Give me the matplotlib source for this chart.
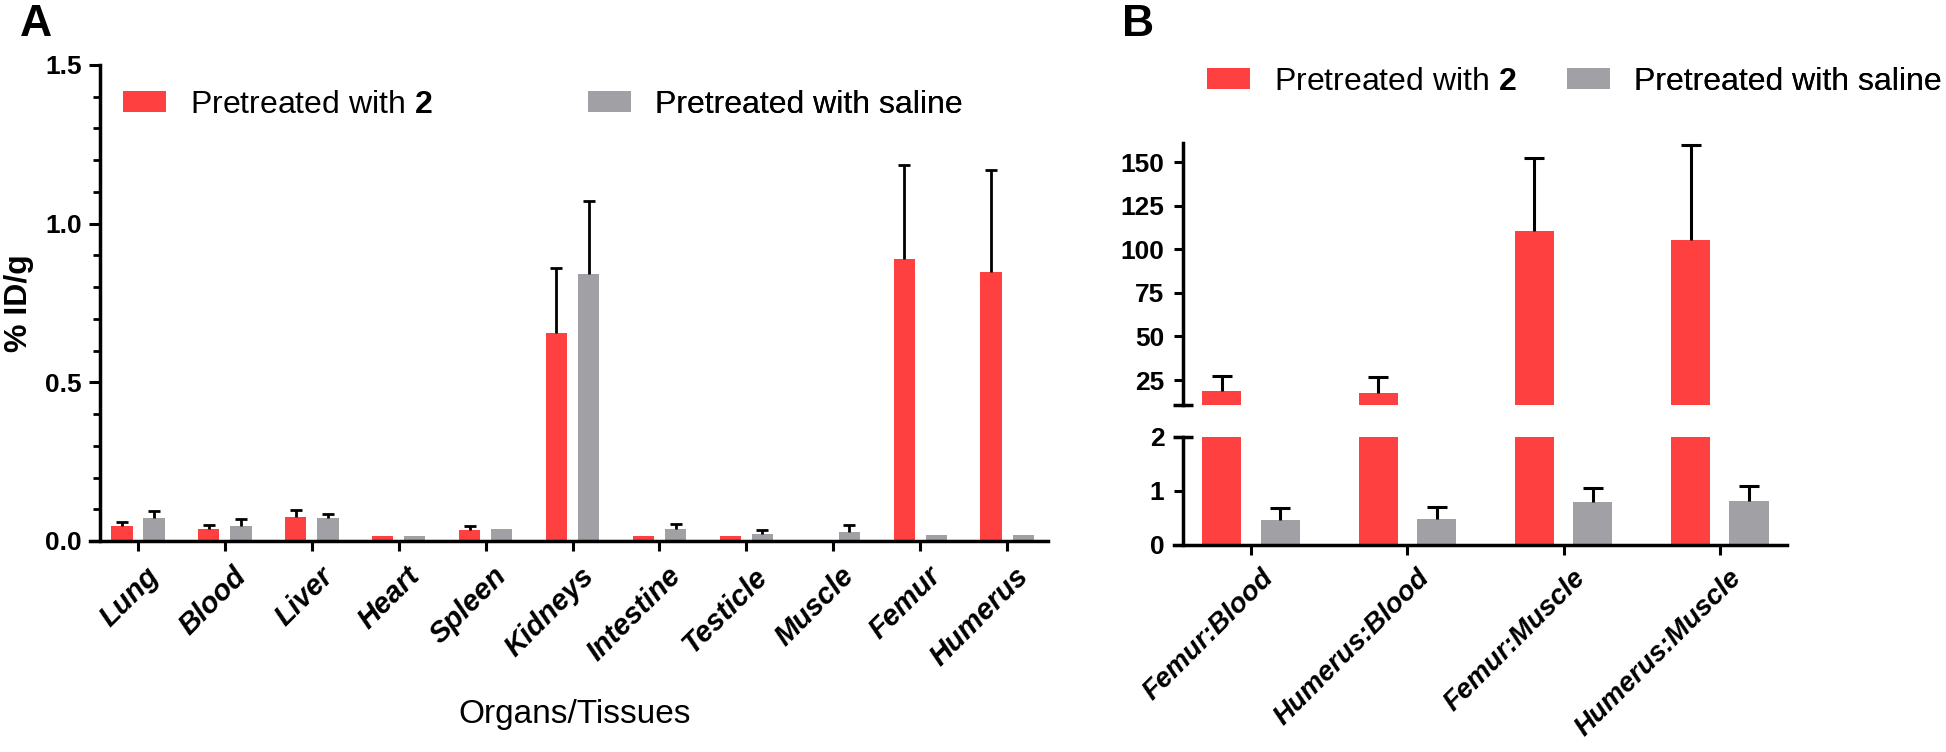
import numpy as np
import matplotlib
matplotlib.use('Agg')
import matplotlib.pyplot as plt
import matplotlib.transforms as mtransforms
from matplotlib.patches import Patch
from matplotlib.ticker import MultipleLocator, FormatStrFormatter

plt.rcParams['font.family'] = ['Liberation Sans', 'DejaVu Sans']
plt.rcParams['mathtext.fontset'] = 'custom'
plt.rcParams['mathtext.rm'] = 'Liberation Sans'
plt.rcParams['mathtext.bf'] = 'Liberation Sans:bold'

# ---------------- data ----------------
organs = ['Lung', 'Blood', 'Liver', 'Heart', 'Spleen', 'Kidneys', 'Intestine',
          'Testicle', 'Muscle', 'Femur', 'Humerus']
a_treated = [0.047, 0.037, 0.076, 0.015, 0.034, 0.655, 0.015, 0.016, 0.0, 0.888, 0.848]
a_treated_err = [0.013, 0.014, 0.022, 0.0, 0.013, 0.204, 0.0, 0.0, 0.0, 0.296, 0.322]
a_saline = [0.073, 0.047, 0.073, 0.015, 0.037, 0.840, 0.038, 0.023, 0.027, 0.019, 0.019]
a_saline_err = [0.023, 0.021, 0.012, 0.0, 0.0, 0.233, 0.015, 0.011, 0.024, 0.0, 0.0]

ratios = ['Femur:Blood', 'Humerus:Blood', 'Femur:Muscle', 'Humerus:Muscle']
b_treated = [18.8, 17.7, 110.4, 105.4]
b_treated_err = [8.3, 9.0, 41.7, 54.3]
b_saline = [0.46, 0.49, 0.79, 0.82]
b_saline_err = [0.23, 0.21, 0.27, 0.28]

label_treated = 'Pretreated with $\\mathbf{2}$'
label_saline = 'Pretreated with saline'
a_yticks = [0.0, 0.5, 1.0, 1.5]
b_upper_ticks = [25, 50, 75, 100, 125, 150]
b_lower_ticks = [0, 1, 2]

RED = '#FF4040'
GRAY = '#A0A0A5'
W, H = 1946, 752
fig = plt.figure(figsize=(W / 100, H / 100), dpi=100)


def px_axes(l, t, r, b):
    return fig.add_axes([l / W, 1 - b / H, (r - l) / W, (b - t) / H])


def style(ax, spine_x):
    for s in ['top', 'right']:
        ax.spines[s].set_visible(False)
    ax.spines['left'].set_position(('data', spine_x))
    for s in ['left', 'bottom']:
        ax.spines[s].set_linewidth(2.5)
    ax.tick_params(axis='both', which='major', direction='out', width=2.2,
                   length=7.5, labelsize=19)


def upper_err(ax, x, y, e, capsize, lw, clip=True):
    x = np.asarray(x); y = np.asarray(y); e = np.asarray(e)
    m = e > 0
    _, caps, bars = ax.errorbar(x[m], y[m], yerr=[np.zeros(m.sum()), e[m]],
                                fmt='none', ecolor='black', elinewidth=lw,
                                capsize=capsize, capthick=lw, zorder=3)
    for c in caps:
        if np.allclose(c.get_ydata(), y[m]):
            c.set_visible(False)
        c.set_clip_on(clip)
    for b in bars:
        b.set_clip_on(clip)


def shift_xlabels(ax, dx_px, dy_px):
    off = mtransforms.ScaledTranslation(dx_px / 100, -dy_px / 100, fig.dpi_scale_trans)
    for lab in ax.get_xticklabels():
        lab.set_transform(lab.get_transform() + off)


def add_item(ax, color, text, x_px, y_px):
    leg = ax.legend([Patch(facecolor=color, edgecolor='none')], [text],
                    loc='center left', bbox_to_anchor=(x_px / W, 1 - y_px / H),
                    bbox_transform=fig.transFigure, frameon=False, borderpad=0,
                    borderaxespad=0, handlelength=1.35, handleheight=0.63,
                    handletextpad=0.75, fontsize=23)
    ax.add_artist(leg)


# ---------------- Panel A ----------------
axA = px_axes(90, 65, 1048, 541)
xa = np.arange(len(organs))
off, bw = 0.185, 0.245
axA.bar(xa - off, a_treated, bw, color=RED, zorder=2)
axA.bar(xa + off, a_saline, bw, color=GRAY, zorder=2)
upper_err(axA, xa - off, a_treated, a_treated_err, 4, 2.0)
upper_err(axA, xa + off, a_saline, a_saline_err, 4, 2.0)
axA.set_xlim(-0.552, 10.47)
axA.set_ylim(0, 1.5)
axA.set_yticks(a_yticks)
axA.yaxis.set_major_formatter(FormatStrFormatter('%.1f'))
axA.yaxis.set_minor_locator(MultipleLocator(0.1))
axA.set_xticks(xa)
style(axA, -0.437)
axA.tick_params(axis='y', which='major', length=8, pad=5)
axA.tick_params(axis='y', which='minor', length=5, width=2.0)
axA.tick_params(axis='x', length=7.5, pad=4)
axA.set_xticklabels(organs, rotation=45, ha='right', va='top',
                    rotation_mode='anchor', fontsize=21, fontweight='bold',
                    fontstyle='italic')
shift_xlabels(axA, 7, 5)
for lab in axA.get_yticklabels():
    lab.set_fontweight('bold')
add_item(axA, RED, label_treated, 123, 105)
add_item(axA, GRAY, label_saline, 588, 105)

fig.text(19 / W, 1 - 303 / H, '% ID/g', rotation=90, ha='center', va='center',
         fontsize=23, fontweight='bold')
fig.text(575 / W, 1 - 714 / H, 'Organs/Tissues', ha='center', va='center',
         fontsize=24)
fig.text(20 / W, 1 - 36 / H, 'A', ha='left', va='baseline', fontsize=32,
         fontweight='bold')
fig.text(1122 / W, 1 - 36 / H, 'B', ha='left', va='baseline', fontsize=32,
         fontweight='bold')

# ---------------- Panel B ----------------
xb = np.arange(len(ratios))
boff, bbw = 0.187, 0.25
xl = (-0.493, 3.43)
spx = -0.435
sx = (1183 - 1174) / (1787 - 1174)

axU = px_axes(1174, 143, 1787, 405)
axU.bar(xb - boff, b_treated, bbw, color=RED, zorder=2)
upper_err(axU, xb - boff, b_treated, b_treated_err, 7, 2.2, clip=False)
axU.set_xlim(*xl)
axU.set_ylim(10.67, 160.9)
axU.set_yticks(b_upper_ticks)
axU.set_xticks([])
style(axU, spx)
axU.spines['bottom'].set_visible(False)
axU.tick_params(axis='y', length=6.5, pad=7)
for lab in axU.get_yticklabels():
    lab.set_fontweight('bold')
axU.plot([sx - 10 / 613, sx + 10 / 613], [0, 0], transform=axU.transAxes,
         color='black', lw=2.5, clip_on=False, solid_capstyle='butt')

axL = px_axes(1174, 437, 1787, 545)
axL.bar(xb - boff, b_treated, bbw, color=RED, zorder=2)
axL.bar(xb + boff, b_saline, bbw, color=GRAY, zorder=2)
upper_err(axL, xb + boff, b_saline, b_saline_err, 7, 2.2)
axL.set_xlim(*xl)
axL.set_ylim(0, 2)
axL.set_yticks(b_lower_ticks)
axL.set_xticks(xb)
style(axL, spx)
axL.tick_params(axis='y', length=6.5, pad=7)
axL.tick_params(axis='x', length=7.5, pad=4)
axL.set_xticklabels(ratios, rotation=45, ha='right', va='top',
                    rotation_mode='anchor', fontsize=20, fontweight='bold',
                    fontstyle='italic')
shift_xlabels(axL, 9, 4)
for lab in axL.get_yticklabels():
    lab.set_fontweight('bold')
axL.plot([sx - 10 / 613, sx + 10 / 613], [1, 1], transform=axL.transAxes,
         color='black', lw=2.5, clip_on=False, solid_capstyle='butt')

add_item(axL, RED, label_treated, 1207, 82)
add_item(axL, GRAY, label_saline, 1567, 82)

fig.savefig('out.png', dpi=100)
